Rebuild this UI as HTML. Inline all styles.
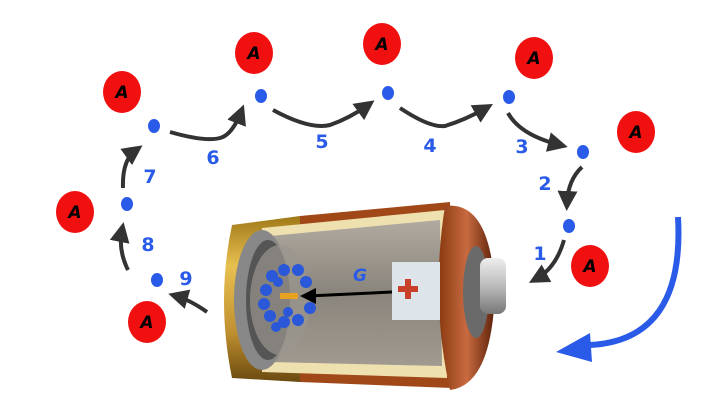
<!DOCTYPE html>
<html><head><style>body{margin:0;background:#fff}svg{display:block}</style></head><body>
<svg width="727" height="400" viewBox="0 0 727 400" xmlns="http://www.w3.org/2000/svg">
<defs>
<marker id="ah" markerWidth="5" markerHeight="5" refX="3" refY="2.5" orient="auto" markerUnits="strokeWidth"><path d="M0,0 L5,2.5 L0,5 z" fill="#333"/></marker>
<linearGradient id="gold" x1="0" y1="0" x2="0" y2="1"><stop offset="0" stop-color="#a07818"/><stop offset=".3" stop-color="#e8c050"/><stop offset=".7" stop-color="#c09030"/><stop offset="1" stop-color="#6a4a10"/></linearGradient>
<linearGradient id="brown" x1="0" y1="0" x2="1" y2="0"><stop offset="0" stop-color="#8a3a10"/><stop offset=".5" stop-color="#c86a40"/><stop offset="1" stop-color="#5a2008"/></linearGradient>
<linearGradient id="glass" x1="0" y1="0" x2="0" y2="1"><stop offset="0" stop-color="#b0aaa0"/><stop offset=".5" stop-color="#8a857c"/><stop offset="1" stop-color="#a09a90"/></linearGradient>
<linearGradient id="term" x1="0" y1="0" x2="0" y2="1"><stop offset="0" stop-color="#eee"/><stop offset=".5" stop-color="#bbb"/><stop offset="1" stop-color="#777"/></linearGradient>
</defs>
<g font-family="'Comic Sans MS','DejaVu Sans',sans-serif" font-weight="bold" font-size="19" text-anchor="middle">
<path d="M232,225 L300,216 L300,382 L232,378 Q216,300 232,225z" fill="url(#gold)"/>
<path d="M300,216 L450,202 L452,388 L300,382z" fill="#a04818"/>
<path d="M262,228 L445,210 L447,378 L262,372z" fill="#efe0b0"/>
<path d="M270,236 L440,220 L442,366 L270,362z" fill="url(#glass)"/>
<ellipse cx="262" cy="300" rx="28" ry="70" fill="#888"/>
<ellipse cx="268" cy="300" rx="22" ry="60" fill="#555"/>
<ellipse cx="280" cy="300" rx="30" ry="55" fill="#9a968e" opacity=".7"/>
<path d="M445,206 Q490,200 495,290 Q492,385 450,390 Q430,300 445,206z" fill="url(#brown)"/>
<ellipse cx="476" cy="292" rx="13" ry="46" fill="#6a6a6a"/>
<rect x="480" y="258" width="26" height="56" rx="8" fill="url(#term)"/>
<rect x="392" y="262" width="48" height="58" fill="#dde4ea"/>
<rect x="398" y="286" width="20" height="6" fill="#c84028"/>
<rect x="405" y="279" width="6" height="20" fill="#c84028"/>
<g fill="#2a58d8">
<circle cx="272" cy="276" r="6"/><circle cx="284" cy="270" r="6"/><circle cx="298" cy="270" r="6"/><circle cx="306" cy="282" r="6"/><circle cx="266" cy="290" r="6"/><circle cx="264" cy="304" r="6"/><circle cx="270" cy="316" r="6"/><circle cx="284" cy="322" r="6"/><circle cx="298" cy="320" r="6"/><circle cx="310" cy="308" r="6"/><circle cx="278" cy="282" r="5"/><circle cx="288" cy="312" r="5"/><circle cx="276" cy="327" r="5"/>
</g>
<rect x="280" y="293" width="18" height="6" fill="#e8a020"/>
<line x1="392" y1="292" x2="308" y2="296" stroke="#000" stroke-width="3"/>
<path d="M300,296 L316,288 L316,304z" fill="#000"/>
<text x="360" y="281" fill="#2a5be8" font-size="17" font-style="italic">G</text>
<g fill="#f01010">
<ellipse cx="122" cy="92" rx="19" ry="21"/><ellipse cx="254" cy="53" rx="19" ry="21"/><ellipse cx="382" cy="44" rx="19" ry="21"/><ellipse cx="534" cy="58" rx="19" ry="21"/><ellipse cx="636" cy="132" rx="19" ry="21"/><ellipse cx="75" cy="212" rx="19" ry="21"/><ellipse cx="590" cy="266" rx="19" ry="21"/><ellipse cx="147" cy="322" rx="19" ry="21"/>
</g>
<g fill="#000" font-size="17" font-style="italic">
<text x="122" y="98">A</text><text x="254" y="59">A</text><text x="382" y="50">A</text><text x="534" y="64">A</text><text x="636" y="138">A</text><text x="75" y="218">A</text><text x="590" y="272">A</text><text x="147" y="328">A</text>
</g>
<g fill="#2a5be8">
<ellipse cx="154" cy="126" rx="6" ry="7"/><ellipse cx="261" cy="96" rx="6" ry="7"/><ellipse cx="388" cy="93" rx="6" ry="7"/><ellipse cx="509" cy="97" rx="6" ry="7"/><ellipse cx="583" cy="152" rx="6" ry="7"/><ellipse cx="569" cy="226" rx="6" ry="7"/><ellipse cx="157" cy="280" rx="6" ry="7"/><ellipse cx="127" cy="204" rx="6" ry="7"/>
</g>
<g fill="none" stroke="#333" stroke-width="4" marker-end="url(#ah)">
<path d="M170,132 Q205,142 220,138 Q232,135 241,112"/>
<path d="M273,110 Q310,130 330,125 Q350,118 368,105"/>
<path d="M400,108 Q430,128 445,126 Q465,120 486,108"/>
<path d="M508,113 Q520,135 560,145"/>
<path d="M582,167 Q568,180 567,203"/>
<path d="M564,240 Q556,268 536,279"/>
<path d="M207,312 Q190,300 176,296"/>
<path d="M128,270 Q118,250 122,230"/>
<path d="M123,188 Q122,160 136,150"/>
</g>
<path d="M678,217 Q685,340 590,345" fill="none" stroke="#2a5be8" stroke-width="6"/>
<path d="M556,352 L590,333 L592,362z" fill="#2a5be8"/>
<g fill="#2a5be8">
<text x="213" y="164">6</text><text x="322" y="148">5</text><text x="430" y="152">4</text><text x="522" y="153">3</text><text x="545" y="190">2</text><text x="540" y="260">1</text><text x="186" y="285">9</text><text x="148" y="251">8</text><text x="150" y="183">7</text>
</g>
</g>
</svg>
</body></html>
